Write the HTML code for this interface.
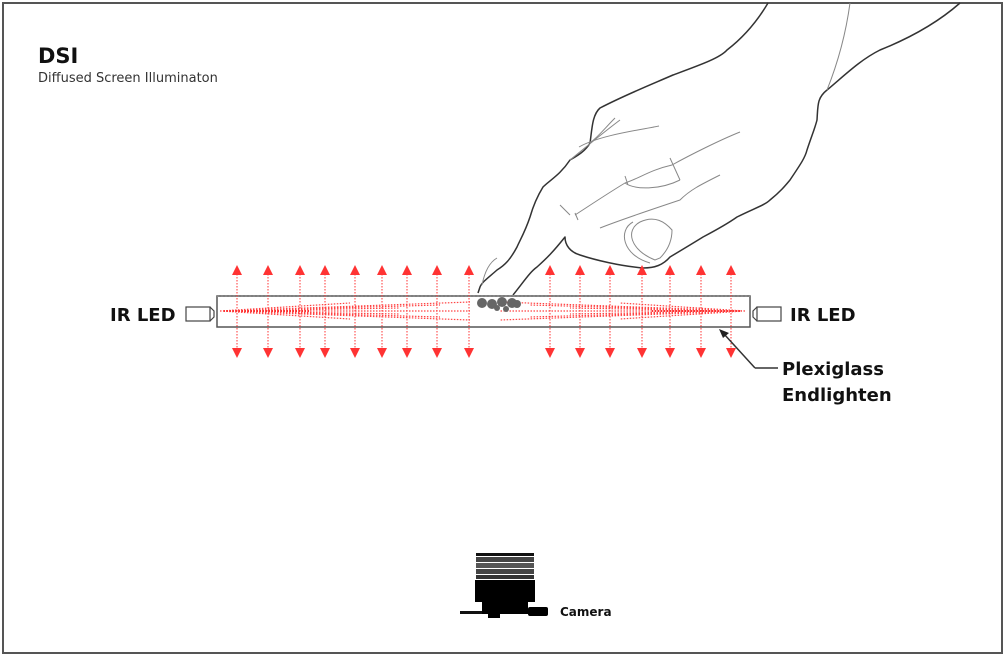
<!DOCTYPE html>
<html><head><meta charset="utf-8"><style>
html,body{margin:0;padding:0;background:#fff;}
svg{display:block;}
text{font-family:"DejaVu Sans","Liberation Sans",sans-serif;}
</style></head><body>
<svg width="1005" height="656" viewBox="0 0 1005 656" xmlns="http://www.w3.org/2000/svg">
<rect x="3" y="3" width="999" height="650" fill="#fff" stroke="#555" stroke-width="2"/>
<text x="38" y="63" font-size="21" font-weight="bold" fill="#111">DSI</text>
<text x="38" y="82" font-size="13" fill="#333">Diffused Screen Illuminaton</text>

<!-- hand -->
<g fill="none" stroke="#333" stroke-width="1.5" stroke-linejoin="round">
<path d="M768,3 C755,25 740,40 727,50 C720,58 700,65 673,75 C650,85 625,95 600,108 C592,115 592,130 590,143 C585,152 575,157 570,160 C560,175 550,180 543,187 C535,200 532,210 530,217 C525,232 520,240 517,247 C510,260 505,265 497,270 C488,278 482,282 480,287 L478,293"/>
<path d="M513,295 C525,280 530,272 537,267 C547,258 553,252 565,237 C565,245 570,252 580,255 C595,260 620,266 643,268 C655,268 663,265 670,257 C685,248 695,242 703,237 C720,228 730,222 737,217 C755,208 765,205 770,200 C780,192 785,186 790,180 C800,165 805,158 807,150 C812,135 815,128 817,120 C818,105 817,98 827,90 C845,75 860,60 880,50 C905,40 935,25 960,3"/>
</g>
<g fill="none" stroke="#888" stroke-width="1">
<path d="M850,3 C845,40 835,70 827,90"/>
<path d="M590,143 C600,135 605,128 615,118"/>
<path d="M579,147 C600,135 640,130 659,126"/>
<path d="M570,160 C585,148 600,135 620,120"/>
<path d="M575,215 C595,202 610,192 625,183 C640,178 650,170 672,165 C690,155 720,140 740,132"/>
<path d="M570,215 L560,205 M575,213 L578,220"/>
<path d="M625,183 C635,190 660,190 680,180 M625,176 L628,185 M680,180 L670,158"/>
<path d="M600,228 C620,220 650,210 680,200 C690,190 700,185 720,175"/>
<path d="M655,260 C630,250 625,230 640,222 C655,215 665,222 672,230 C672,240 668,250 660,258 Z"/>
<path d="M650,263 C622,255 618,230 633,222"/>
<path d="M482,285 C485,270 490,262 497,258"/>
</g>

<!-- plate -->
<rect x="217" y="296" width="533" height="31" fill="#fff" stroke="#555" stroke-width="1.5"/>
<line x1="217" y1="296" x2="750" y2="296" stroke="#888" stroke-width="2" stroke-dasharray="2 2"/>
<!-- internal rays -->
<g stroke="#f44" stroke-width="1.2" stroke-dasharray="1.5 1.5" fill="none">
<path d="M220,311 L470,302 M220,311 L470,320 M220,311 L440,305 M220,311 L440,317 M220,311 L470,311 M220,311 L400,308 M220,311 L400,314 M220,311 L350,303 M220,311 L350,319"/>
<path d="M745,311 L500,302 M745,311 L500,320 M745,311 L530,305 M745,311 L530,317 M745,311 L500,311 M745,311 L570,308 M745,311 L570,314 M745,311 L620,303 M745,311 L620,319"/>
</g>
<g stroke="#f33" stroke-width="2" stroke-dasharray="1 2">
<line x1="224" y1="311" x2="310" y2="311"/>
<line x1="740" y1="311" x2="650" y2="311"/>
</g>
<!-- touch blob -->
<g fill="#666">
<circle cx="482" cy="303" r="5"/><circle cx="492" cy="304" r="5"/><circle cx="502" cy="302" r="5"/><circle cx="512" cy="303" r="5"/>
<circle cx="517" cy="304" r="4"/><circle cx="497" cy="308" r="3"/><circle cx="506" cy="309" r="3"/>
</g>

<!-- arrows -->
<g stroke="#f33" stroke-width="1" stroke-dasharray="1.5 1.5" fill="none">
<path d="M237,274V350 M268,274V350 M300,274V350 M325,274V350 M355,274V350 M382,274V350 M407,274V350 M437,274V350 M469,274V350 M550,274V350 M580,274V350 M610,274V350 M642,274V350 M670,274V350 M701,274V350 M731,274V350"/>
</g>
<g fill="#f33">
<path d="M237,265l-5,10h10z M268,265l-5,10h10z M300,265l-5,10h10z M325,265l-5,10h10z M355,265l-5,10h10z M382,265l-5,10h10z M407,265l-5,10h10z M437,265l-5,10h10z M469,265l-5,10h10z M550,265l-5,10h10z M580,265l-5,10h10z M610,265l-5,10h10z M642,265l-5,10h10z M670,265l-5,10h10z M701,265l-5,10h10z M731,265l-5,10h10z"/>
<path d="M237,358l-5,-10h10z M268,358l-5,-10h10z M300,358l-5,-10h10z M325,358l-5,-10h10z M355,358l-5,-10h10z M382,358l-5,-10h10z M407,358l-5,-10h10z M437,358l-5,-10h10z M469,358l-5,-10h10z M550,358l-5,-10h10z M580,358l-5,-10h10z M610,358l-5,-10h10z M642,358l-5,-10h10z M670,358l-5,-10h10z M701,358l-5,-10h10z M731,358l-5,-10h10z"/>
</g>

<!-- LEDs -->
<rect x="186" y="307" width="24" height="14" fill="#fff" stroke="#444" stroke-width="1.2"/>
<path d="M210,307 L214,311 L214,317 L210,321" fill="none" stroke="#444" stroke-width="1.2"/>
<rect x="757" y="307" width="24" height="14" fill="#fff" stroke="#444" stroke-width="1.2"/>
<path d="M757,307 L753,311 L753,317 L757,321" fill="none" stroke="#444" stroke-width="1.2"/>
<text x="110" y="321" font-size="18" font-weight="bold" fill="#111">IR LED</text>
<text x="790" y="321" font-size="18" font-weight="bold" fill="#111">IR LED</text>

<!-- leader -->
<path d="M755,368 L724,334 M778,368 L755,368" stroke="#333" stroke-width="1.5" fill="none"/>
<path d="M719,329 L729,333 L723,338 Z" fill="#222"/>
<text x="782" y="375" font-size="18" font-weight="bold" fill="#111">Plexiglass</text>
<text x="782" y="401" font-size="18" font-weight="bold" fill="#111">Endlighten</text>

<!-- camera -->
<rect x="476" y="553" width="58" height="3" fill="#111"/>
<rect x="476" y="557" width="58" height="5" fill="#444"/>
<rect x="476" y="563" width="58" height="5" fill="#555"/>
<rect x="476" y="569" width="58" height="5" fill="#444"/>
<rect x="476" y="575" width="58" height="4" fill="#333"/>
<rect x="475" y="580" width="60" height="22" fill="#000"/>
<rect x="460" y="611" width="30" height="3" fill="#111"/>
<rect x="482" y="600" width="46" height="14" fill="#000"/>
<rect x="488" y="612" width="12" height="6" fill="#000"/>
<rect x="528" y="607" width="20" height="9" rx="2" fill="#000"/>
<text x="560" y="616" font-size="12" font-weight="bold" fill="#111">Camera</text>
</svg>
</body></html>
